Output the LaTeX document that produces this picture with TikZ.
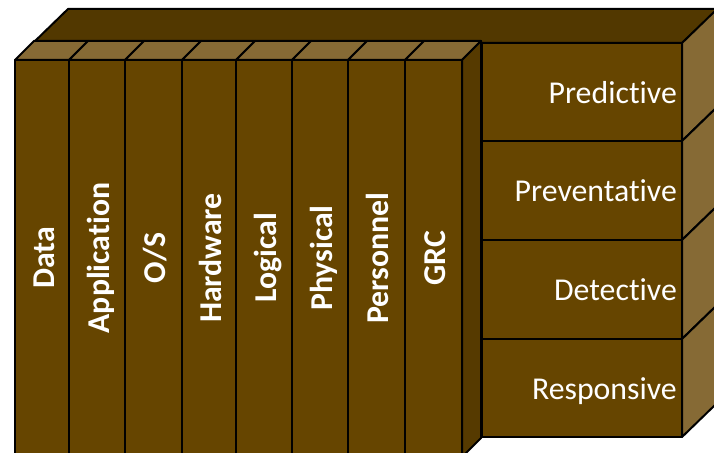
\documentclass[tikz,border=0pt]{standalone}
\usepackage{fontspec}
\setmainfont{Carlito}[Ligatures=NoCommon]
\definecolor{boxfront}{RGB}{102,69,0}
\definecolor{boxtop}{RGB}{134,106,53}
\definecolor{boxback}{RGB}{82,56,0}
\definecolor{colside}{RGB}{86,58,0}

\begin{document}
\begin{tikzpicture}[x=1pt,y=-1pt,
            face/.style={draw=black,line width=2pt,line join=round},
            front/.style={face,fill=boxfront},
            topface/.style={face,fill=boxtop},
            collabel/.style={rotate=90,anchor=base,text=white,inner sep=0pt,
                font=\bfseries\fontsize{31.8}{38}\selectfont},
            rowlabel/.style={anchor=base east,text=white,inner sep=0pt,
                font=\fontsize{31.8}{38}\selectfont}]
            \useasboundingbox (0,0) rectangle (714,452);
            \clip (0,0) rectangle (714,452);

            % back box
            \draw[face,fill=boxback] (33,43) -- (68,9) -- (716,9) -- (716,11) -- (682,43) -- cycle;

            % response rows
            \foreach \lbl/\yt/\yb [count=\i] in {Predictive/43/141, Preventative/141/240,
                Detective/240/339, Responsive/339/437}{
                \draw[front] (482,\yt) rectangle (682,\yb);
                \draw[topface] (682,\yt) -- (715,\yt-32) -- (715,\yb-32) -- (682,\yb) -- cycle;
                \node[rowlabel] (row\i) at (677,{(\yt+\yb)/2+11}) {\lbl};
            }

            % layer columns
            \foreach \lbl/\xl/\xr [count=\i] in {Data/15/69, Application/69/125, {O/S}/125/182,
                Hardware/182/236, Logical/236/292, Physical/292/348, Personnel/348/405, GRC/405/462}{
                \draw[topface] (\xl,60) -- (\xl+19,41) -- (\xr+19,41) -- (\xr,60) -- cycle;
                \draw[front] (\xl,60) rectangle (\xr,458);
                \node[collabel] (col\i) at ({(\xl+\xr)/2+12},258) {\lbl};
            }
            \draw[face,fill=colside] (462,60) -- (481,41) -- (481,438) -- (462,457) -- cycle;

        \end{tikzpicture}
\end{document}
